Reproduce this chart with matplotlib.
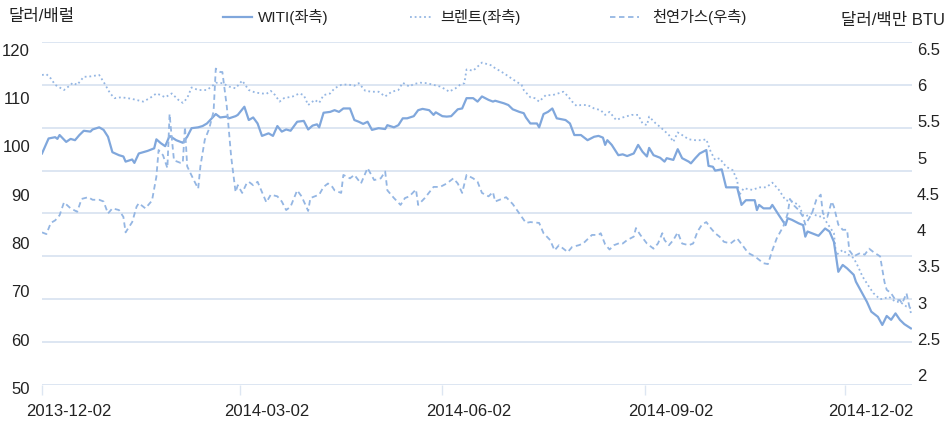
import matplotlib
matplotlib.use('Agg')
import matplotlib.pyplot as plt
from matplotlib.lines import Line2D
import numpy as np
import pandas as pd

plt.rcParams['font.family'] = ['Liberation Sans Narrow', 'Liberation Sans', 'Noto Sans CJK KR', 'DejaVu Sans']

start = pd.Timestamp('2013-12-02')

# WTI (좌측), 달러/배럴 -- days since 2013-12-02
wti_days = [0, 3, 6, 7, 8, 11, 13, 15, 17, 19, 22, 23, 26, 28, 30, 32, 35, 37, 38, 41, 42, 44, 48, 51, 52, 54, 56, 58, 61, 64, 66,
            68, 71, 73, 75, 79, 81, 84, 85, 88, 89, 92, 94, 96, 98, 100, 103, 105, 107, 109, 111, 113, 116, 119, 121, 123, 125, 126, 128, 131,
            133, 135, 137, 140, 142, 144, 146, 148, 150, 153, 156, 157, 160, 162, 164, 166, 169, 171, 173, 176, 178, 179, 182, 184, 186, 189, 191, 193, 196,
            198, 200, 203, 205, 206, 210, 212, 214, 217, 219, 220, 222, 225, 226, 228, 230, 232, 234, 238, 240, 242, 245, 248, 251, 253, 255, 256, 257, 259, 262,
            264, 266, 269, 271, 273, 275, 276, 278, 281, 283, 284, 287, 289, 291, 294, 295, 297, 299, 302, 303, 305, 306, 309, 311, 316, 318, 320, 324, 325, 326, 328,
            331, 332, 335, 338, 339, 341, 344, 346, 347, 348, 350, 353, 356, 358, 360, 362, 364, 366, 369, 370, 372, 375, 377, 380, 382, 384, 386, 388, 390, 392, 395]
wti = [94.0, 97.5, 97.8, 97.4, 98.3, 96.7, 97.4, 97.1, 98.3, 99.3, 99.1, 99.6, 100.1, 99.5, 97.9, 94.3, 93.6, 93.3, 92.1, 92.6, 91.8, 94.0, 94.6, 95.2, 97.3, 96.4, 95.7, 98.1, 97.1, 96.5, 97.9,
       99.9, 100.1, 100.4, 101.0, 103.2, 102.4, 102.6, 102.2, 102.7, 103.0, 104.9, 101.8, 102.4, 101.0, 98.1, 98.7, 98.1, 100.4, 99.1, 99.6, 99.3, 101.4, 101.6, 99.6, 100.5, 100.8, 100.1, 103.5, 103.7,
       104.1, 103.7, 104.5, 104.5, 101.8, 101.4, 100.9, 101.4, 99.5, 99.9, 99.7, 100.6, 100.1, 100.6, 102.2, 102.2, 102.7, 104.1, 104.4, 104.1, 103.0, 103.6, 102.7, 102.6, 102.7, 104.3, 104.5, 106.9, 106.9,
       106.1, 107.3, 106.5, 106.1, 106.3, 105.7, 105.3, 104.3, 103.7, 103.4, 102.4, 101.0, 101.0, 100.1, 103.2, 103.7, 104.5, 102.2, 101.8, 101.0, 98.3, 98.3, 97.1, 97.9, 98.1, 97.7, 96.0, 97.1, 96.0, 93.6,
       93.8, 93.4, 94.0, 96.0, 94.4, 93.3, 95.3, 93.6, 93.0, 92.1, 92.9, 92.5, 95.0, 92.9, 92.1, 91.7, 92.9, 94.0, 94.8, 91.1, 90.9, 90.0, 90.3, 86.1, 86.1, 82.0, 83.1, 83.1, 80.8, 82.0, 81.2,
       81.2, 82.0, 79.6, 77.3, 78.9, 78.5, 77.7, 77.3, 74.6, 75.8, 75.4, 74.8, 76.5, 75.8, 73.4, 66.4, 68.0, 67.2, 65.7, 64.1, 62.2, 59.4, 57.1, 55.9, 54.0, 56.1, 55.2, 56.7, 55.2, 54.2, 53.2]

# 브렌트 (좌측)
brent_days = [0, 2, 4, 6, 10, 13, 14, 16, 19, 21, 26, 28, 31, 33, 36, 39, 42, 46, 49, 52, 54, 56, 59, 62, 64,
              66, 68, 71, 75, 78, 79, 82, 85, 88, 91, 94, 97, 100, 102, 104, 106, 108, 110, 114, 117, 119, 121, 124, 126, 128, 131,
              133, 136, 139, 142, 144, 147, 150, 153, 156, 159, 162, 164, 167, 169, 172, 175, 178, 181, 184, 185, 188, 190, 192, 193, 196,
              200, 204, 206, 210, 214, 218, 219, 222, 224, 226, 229, 232, 234, 237, 239, 241, 243, 245, 248, 251, 254, 256, 258, 261, 264,
              268, 271, 273, 275, 276, 279, 281, 285, 287, 289, 291, 294, 297, 300, 302, 304, 306, 308, 311, 314, 316, 317, 319, 322, 323, 326, 329,
              330, 332, 335, 338, 341, 344, 346, 347, 350, 353, 355, 357, 360, 361, 364, 366, 369, 371, 373, 376, 378, 381, 383, 385, 388, 390, 393, 395]
brent = [112.3, 112.5, 111.5, 110.0, 108.8, 110.0, 110.5, 110.0, 111.9, 111.9, 112.3, 110.7, 108.0, 106.9, 107.1, 106.9, 106.6, 106.1, 106.9, 108.0, 107.6, 107.1, 108.0, 106.5, 105.8,
         106.9, 109.4, 108.8, 108.8, 110.0, 110.5, 110.4, 109.6, 109.2, 111.0, 108.8, 108.2, 108.0, 107.9, 108.6, 107.6, 106.1, 106.9, 107.3, 108.0, 107.6, 105.3, 106.5, 105.8, 107.6, 108.0,
         109.2, 110.0, 110.1, 109.8, 110.4, 108.6, 108.4, 108.4, 107.3, 108.4, 108.8, 110.5, 109.6, 110.2, 110.5, 110.4, 110.0, 109.6, 108.8, 108.4, 109.2, 110.0, 110.4, 113.6, 113.3,
         115.2, 114.6, 113.9, 112.7, 111.3, 110.0, 108.8, 107.1, 106.9, 106.1, 107.6, 107.6, 107.9, 108.4, 107.4, 106.1, 105.1, 105.3, 105.3, 104.5, 104.1, 103.0, 103.7, 101.8, 102.4,
         103.0, 103.0, 101.0, 100.6, 102.6, 101.0, 100.2, 98.3, 96.7, 98.9, 98.3, 97.3, 97.1, 97.1, 97.3, 94.4, 92.5, 92.9, 90.9, 90.1, 87.8, 84.3, 85.9, 85.6, 85.5, 86.1, 86.1,
         86.4, 87.2, 85.5, 83.1, 82.8, 82.0, 79.6, 79.3, 80.0, 79.3, 79.3, 77.7, 75.4, 70.3, 71.5, 70.6, 69.6, 67.6, 65.3, 62.9, 61.4, 60.0, 60.2, 60.6, 59.4, 59.4, 58.3, 57.9]

# 천연가스 (우측), 달러/백만 BTU
gas_days = [0, 2, 4, 6, 8, 10, 13, 16, 18, 21, 23, 26, 28, 30, 32, 35, 37, 38, 41, 43, 44, 47, 50, 52, 53, 55, 57, 58, 59, 60, 63, 64, 65,
            66, 69, 71, 72, 74, 76, 78, 79, 81, 82, 84, 86, 88, 89, 91, 93, 94, 96, 98, 100, 102, 104, 107, 109, 111, 113, 116, 118, 121, 122, 126, 128, 130, 132,
            133, 136, 137, 140, 142, 145, 148, 151, 154, 156, 157, 160, 163, 165, 167, 170, 171, 174, 178, 181, 184, 187, 189, 191, 193, 196,
            198, 200, 203, 205, 206, 209, 211, 214, 217, 220, 222, 226, 228, 231, 233, 235, 237, 239, 241, 244, 246, 248, 250, 253, 254, 256, 258, 260, 263,
            264, 266, 269, 270, 272, 275, 278, 280, 282, 283, 285, 287, 289, 291, 294, 296, 298, 300, 302, 304, 306, 308, 310, 313, 315, 316, 319, 321, 324, 326, 328,
            330, 332, 334, 337, 339, 340, 342, 344, 346, 347, 350, 352, 354, 355, 357, 359, 360, 362, 364, 366, 367, 369, 372, 374, 376, 378, 381, 383, 384, 386, 388, 390, 391, 393, 394, 395]
gas = [4.28, 4.26, 4.39, 4.42, 4.48, 4.63, 4.56, 4.52, 4.67, 4.69, 4.66, 4.66, 4.64, 4.50, 4.56, 4.54, 4.46, 4.28, 4.40, 4.58, 4.62, 4.56, 4.65, 4.93, 5.24, 5.18, 5.03, 5.66, 5.38, 5.12, 5.09, 5.09, 5.51,
       5.05, 4.89, 4.79, 5.05, 5.36, 5.49, 5.69, 6.19, 6.15, 6.15, 5.75, 5.16, 4.75, 4.83, 4.74, 4.85, 4.87, 4.83, 4.87, 4.75, 4.63, 4.72, 4.70, 4.64, 4.54, 4.58, 4.77, 4.70, 4.53, 4.68, 4.72, 4.81, 4.85, 4.81,
       4.77, 4.74, 4.95, 4.91, 4.95, 4.85, 5.03, 4.89, 4.91, 4.99, 4.77, 4.68, 4.60, 4.68, 4.70, 4.78, 4.60, 4.68, 4.81, 4.81, 4.85, 4.91, 4.85, 4.74, 4.95, 4.91,
       4.87, 4.74, 4.70, 4.75, 4.64, 4.67, 4.69, 4.61, 4.50, 4.39, 4.40, 4.39, 4.27, 4.19, 4.07, 4.13, 4.09, 4.05, 4.11, 4.13, 4.15, 4.20, 4.25, 4.25, 4.27, 4.14, 4.08, 4.13, 4.16,
       4.15, 4.19, 4.23, 4.33, 4.25, 4.15, 4.09, 4.15, 4.27, 4.19, 4.13, 4.19, 4.28, 4.15, 4.13, 4.15, 4.29, 4.37, 4.40, 4.33, 4.27, 4.23, 4.17, 4.15, 4.19, 4.21, 4.11, 4.04, 4.00, 3.96, 3.92,
       3.91, 4.07, 4.21, 4.35, 4.50, 4.67, 4.59, 4.54, 4.46, 4.37, 4.50, 4.66, 4.72, 4.50, 4.46, 4.64, 4.58, 4.37, 4.31, 4.31, 4.07, 4.00, 4.04, 4.02, 4.09, 4.05, 4.00, 3.70, 3.61, 3.57, 3.49, 3.49, 3.45, 3.57, 3.45, 3.34]

x_ticks = ['2013-12-02', '2014-03-02', '2014-06-02', '2014-09-02', '2014-12-02']
left_labels = ['120', '110', '100', '90', '80', '70', '60', '50']
right_labels = ['6.5', '6', '5.5', '5', '4.5', '4', '3.5', '3', '2.5', '2']
legend_labels = ['WITI(좌측)', '브렌트(좌측)', '천연가스(우측)']

def to_dates(days):
    return start + pd.to_timedelta(days, unit='D')

line_c = '#80a7dc'
soft_c = '#94b6e3'
grid_c = '#dde6f2'
text_c = '#222222'

W, H = 952, 424
fig = plt.figure(figsize=(W / 100, H / 100), dpi=100)
ax = fig.add_axes([42 / W, 1 - 385 / H, 870 / W, 343 / H])
ax2 = ax.twinx()

ax.plot(to_dates(wti_days), wti, color=line_c, lw=1.6, zorder=4)
ax.plot(to_dates(brent_days), brent, color=soft_c, lw=1.3, ls=(0, (1, 1.6)), zorder=3)
ax2.plot(to_dates(gas_days), gas, color=soft_c, lw=1.3, ls=(0, (3, 2)), zorder=3)

ax.set_xlim(start, start + pd.Timedelta(days=395.5))
ax.set_ylim(40, 120)
ax2.set_ylim(2.5, 6.5)

for a in (ax, ax2):
    for s in a.spines.values():
        s.set_visible(False)

ax.set_yticks(np.arange(40, 121, 10))
ax.set_yticklabels([])
ax.tick_params(axis='y', length=0)
ax.grid(axis='y', color=grid_c, lw=1.4)
ax.set_axisbelow(True)
ax2.set_yticks([])

# x axis: small tick marks at dates, labels slightly to the right
tick_dates = pd.to_datetime(x_ticks)
ax.set_xticks(tick_dates)
ax.set_xticklabels([])
ax.tick_params(axis='x', which='major', length=7, width=1, color=grid_c)
ax.set_xticks(tick_dates + pd.Timedelta(days=12), minor=True)
ax.set_xticklabels(x_ticks, minor=True)
ax.tick_params(axis='x', which='minor', length=0, pad=14, labelsize=12, labelcolor=text_c)

# y labels (placed independently of grid, as in the source)
ytr = ax.get_yaxis_transform()
for lab, v in zip(left_labels, np.linspace(117.9, 38.9, len(left_labels))):
    ax.text(-12 / 870, v, lab, transform=ytr, ha='right', va='center', fontsize=12, color=text_c)
ytr2 = ax2.get_yaxis_transform()
for lab, v in zip(right_labels, np.linspace(6.40, 2.60, len(right_labels))):
    ax2.text(1 + 5 / 870, v, lab, transform=ytr2, ha='left', va='center', fontsize=12, color=text_c)

fig.text(8 / W, 1 - 16 / H, '달러/배럴', ha='left', va='center', fontsize=12, color=text_c)
fig.text(945 / W, 1 - 20 / H, '달러/백만 BTU', ha='right', va='center', fontsize=12, color=text_c)

# legend
styles = [dict(color=line_c, lw=1.6, ls='-'),
          dict(color=soft_c, lw=1.3, ls=(0, (1, 1.6))),
          dict(color=soft_c, lw=1.3, ls=(0, (3, 2)))]
spans = [(223, 252, 258), (410, 433, 440), (610, 639, 652)]
for lab, st, (x0, x1, xt) in zip(legend_labels, styles, spans):
    fig.add_artist(Line2D([x0 / W, x1 / W], [1 - 17 / H, 1 - 17 / H], transform=fig.transFigure, **st))
    fig.text(xt / W, 1 - 17 / H, lab, ha='left', va='center', fontsize=11, color=text_c)

fig.savefig('out.png', dpi=100)
